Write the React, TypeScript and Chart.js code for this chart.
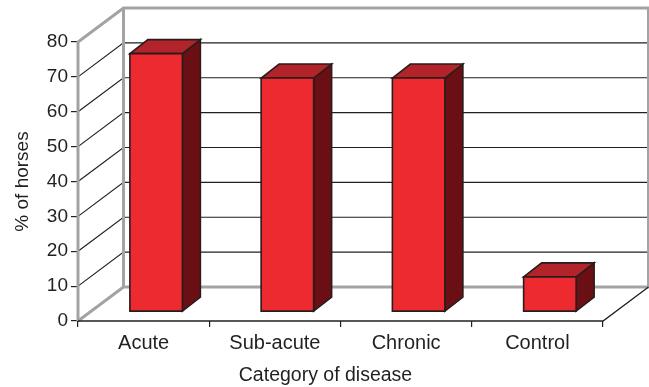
import React, { useEffect, useRef } from "react";
import { Chart, registerables } from "chart.js";

Chart.register(...registerables);

// ---- data ----
const categories = ["Acute", "Sub-acute", "Chronic", "Control"];
const percentHorses = [74, 67, 67, 10];
const yTickValues = [0, 10, 20, 30, 40, 50, 60, 70, 80];
const xTitle = "Category of disease";
const yTitle = "% of horses";

// ---- style ----
const FONT = '"Liberation Sans", Arial, Helvetica, sans-serif';
const TEXT = "#231f20";
const WALL_GRAY = "#a3a3a5";
const WALL = { dx: 45.5, dy: -34 };
const BAR_SHIFT = { dx: 12.5, dy: -9.3 };
const BAR_DEPTH = { dx: 18, dy: -14 };
const FRONT = "#ec2a30";
const TOP = "#b2232a";
const SIDE = "#6a1015";
const OUTLINE = "#2a1c1d";

const threeD = {
  id: "threeD",
  beforeDatasetsDraw(chart: any) {
    const ctx = chart.ctx;
    const xs = chart.scales.x;
    const ys = chart.scales.y;
    const left = xs.left;
    const right = xs.right;
    const backLeft = left + WALL.dx;
    const backRight = right + WALL.dx;
    const y0 = ys.getPixelForValue(yTickValues[0]);
    const yMax = ys.getPixelForValue(yTickValues[yTickValues.length - 1]);
    ctx.save();
    // grid lines
    ctx.strokeStyle = TEXT;
    ctx.lineWidth = 1.2;
    for (let i = 1; i < yTickValues.length - 1; i++) {
      const fy = ys.getPixelForValue(yTickValues[i]);
      ctx.beginPath();
      ctx.moveTo(left, fy);
      ctx.lineTo(backLeft, fy + WALL.dy);
      ctx.lineTo(backRight, fy + WALL.dy);
      ctx.stroke();
    }
    // walls
    ctx.strokeStyle = WALL_GRAY;
    ctx.lineWidth = 3;
    ctx.lineJoin = "miter";
    ctx.beginPath();
    ctx.moveTo(left, y0);
    ctx.lineTo(left, yMax);
    ctx.lineTo(backLeft, yMax + WALL.dy);
    ctx.lineTo(backRight, yMax + WALL.dy);
    ctx.lineTo(backRight, y0 + WALL.dy);
    ctx.lineTo(backLeft, y0 + WALL.dy);
    ctx.lineTo(left, y0);
    ctx.stroke();
    ctx.beginPath();
    ctx.moveTo(backLeft, yMax + WALL.dy);
    ctx.lineTo(backLeft, y0 + WALL.dy);
    ctx.stroke();
    // floor front and right edges
    ctx.strokeStyle = TEXT;
    ctx.lineWidth = 1.3;
    ctx.beginPath();
    ctx.moveTo(left, y0);
    ctx.lineTo(right, y0);
    ctx.lineTo(backRight, y0 + WALL.dy);
    ctx.stroke();
    ctx.restore();
  },
  afterDatasetsDraw(chart: any) {
    const ctx = chart.ctx;
    const meta = chart.getDatasetMeta(0);
    ctx.save();
    ctx.lineWidth = 1.6;
    ctx.strokeStyle = OUTLINE;
    ctx.lineJoin = "miter";
    meta.data.forEach((el: any) => {
      const p = el.getProps(["x", "y", "base", "width"], true);
      const fl = p.x - p.width / 2 + BAR_SHIFT.dx;
      const fr = fl + p.width;
      const ft = p.y + BAR_SHIFT.dy;
      const fb = p.base + BAR_SHIFT.dy;
      // side
      ctx.beginPath();
      ctx.moveTo(fr, ft);
      ctx.lineTo(fr + BAR_DEPTH.dx, ft + BAR_DEPTH.dy);
      ctx.lineTo(fr + BAR_DEPTH.dx, fb + BAR_DEPTH.dy);
      ctx.lineTo(fr, fb);
      ctx.closePath();
      ctx.fillStyle = SIDE;
      ctx.fill();
      ctx.stroke();
      // top
      ctx.beginPath();
      ctx.moveTo(fl, ft);
      ctx.lineTo(fl + BAR_DEPTH.dx, ft + BAR_DEPTH.dy);
      ctx.lineTo(fr + BAR_DEPTH.dx, ft + BAR_DEPTH.dy);
      ctx.lineTo(fr, ft);
      ctx.closePath();
      ctx.fillStyle = TOP;
      ctx.fill();
      ctx.stroke();
      // front
      ctx.beginPath();
      ctx.rect(fl, ft, p.width, fb - ft);
      ctx.fillStyle = FRONT;
      ctx.fill();
      ctx.stroke();
    });
    ctx.restore();
  },
  afterDraw(chart: any) {
    const ctx = chart.ctx;
    ctx.save();
    ctx.fillStyle = TEXT;
    ctx.font = `19.5px ${FONT}`;
    ctx.textAlign = "center";
    ctx.textBaseline = "alphabetic";
    ctx.fillText(xTitle, chart.width / 2 + 1, 381);
    ctx.restore();
  },
};

export default function App() {
  const ref = useRef<HTMLCanvasElement | null>(null);
  useEffect(() => {
    if (!ref.current) return;
    const chart = new Chart(ref.current, {
      type: "bar",
      data: {
        labels: categories,
        datasets: [
          {
            data: percentHorses,
            backgroundColor: "rgba(0,0,0,0)",
            borderWidth: 0,
            barPercentage: 0.4,
            categoryPercentage: 1,
          },
        ],
      },
      options: {
        animation: false,
        responsive: true,
        maintainAspectRatio: false,
        layout: { padding: { top: 42, right: 46, left: 0, bottom: 0 } },
        plugins: { legend: { display: false }, tooltip: { enabled: false } },
        scales: {
          x: {
            grid: {
              display: true,
              drawOnChartArea: false,
              drawTicks: true,
              tickLength: 6,
              color: TEXT,
              lineWidth: 1.2,
              offset: true,
            },
            border: { display: false },
            ticks: {
              color: TEXT,
              font: { size: 20, family: FONT },
              padding: 4,
              maxRotation: 0,
            },
            afterFit(scale: any) {
              scale.height = 66;
            },
          },
          y: {
            min: 0,
            max: 80,
            afterBuildTicks(scale: any) {
              scale.ticks = yTickValues.map((v) => ({ value: v }));
            },
            ticks: {
              color: TEXT,
              font: { size: 19, family: FONT },
              padding: 3,
            },
            grid: {
              display: true,
              drawOnChartArea: false,
              drawTicks: true,
              tickLength: 7,
              color: TEXT,
              lineWidth: 1.2,
            },
            border: { display: false },
            title: {
              display: true,
              text: yTitle,
              color: TEXT,
              font: { size: 19, family: FONT },
              padding: { top: 11, bottom: 0 },
            },
            afterFit(scale: any) {
              scale.width = 78;
            },
          },
        },
      },
      plugins: [threeD],
    });
    return () => chart.destroy();
  }, []);
  return (
    <div style={{ position: "absolute", left: 0, top: 0, width: 649, height: 387 }}>
      <canvas ref={ref} />
    </div>
  );
}
